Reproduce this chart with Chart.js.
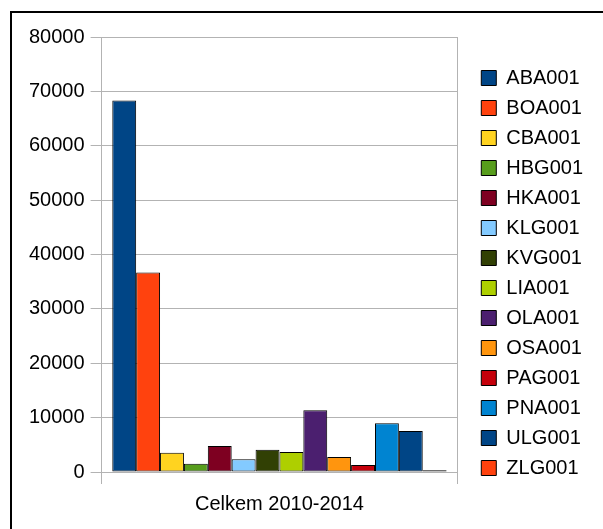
<!DOCTYPE html>
<html>
<head>
<meta charset="utf-8">
<script src="https://cdn.jsdelivr.net/npm/chart.js@4/dist/chart.umd.min.js"></script>
<style>
  body { margin: 0; background: #fff; overflow: hidden; }
  #ramec { position: absolute; left: 10px; top: 11px; width: 640px; height: 560px; border: 2px solid #000; }
  #obal { position: absolute; left: 12px; top: 0; width: 591px; height: 529px; }
</style>
</head>
<body>
<div id="ramec"></div>
<div id="obal"><canvas id="graf"></canvas></div>
<script>
// kategorie a hodnoty
const kategorie = ['Celkem 2010-2014'];
const pracoviste = ['ABA001', 'BOA001', 'CBA001', 'HBG001', 'HKA001', 'KLG001', 'KVG001',
                    'LIA001', 'OLA001', 'OSA001', 'PAG001', 'PNA001', 'ULG001', 'ZLG001'];
const hodnoty = [68300, 36700, 3550, 1530, 4790, 2340, 4110, 3690, 11370, 2760, 1290, 8970, 7560, 310];
const barvy = ['#004586', '#ff420e', '#ffd320', '#579d1c', '#7e0021', '#83caff', '#314004',
               '#aecf00', '#4b1f6f', '#ff950e', '#c5000b', '#0084d1', '#004586', '#ff420e'];
const osaY = [0, 10000, 20000, 30000, 40000, 50000, 60000, 70000, 80000];

const pismo = { family: '"Liberation Sans", Arial, sans-serif', size: 20 };

const datasets = pracoviste.map((p, i) => ({
  label: p,
  data: [hodnoty[i]],
  backgroundColor: barvy[i],
  borderColor: '#000',
  borderWidth: 1,
  borderSkipped: false
}));

// prazdne osy jen kvuli odsazeni grafu
const mezera = (sirka, vyska) => ({
  display: true,
  grid: { display: false },
  border: { display: false },
  ticks: { display: false },
  afterFit: s => { if (sirka) s.width = sirka; if (vyska) s.height = vyska; }
});

new Chart(document.getElementById('graf'), {
  type: 'bar',
  data: { labels: kategorie, datasets: datasets },
  options: {
    responsive: true,
    maintainAspectRatio: false,
    animation: false,
    categoryPercentage: 0.94,
    barPercentage: 1,
    layout: { padding: { top: 22, right: 10, left: 11, bottom: 5 } },
    plugins: {
      tooltip: { enabled: false },
      legend: {
        position: 'right',
        maxWidth: 200,
        labels: {
          font: pismo,
          color: '#000',
          boxWidth: 15,
          boxHeight: 15,
          padding: 10,
          useBorderRadius: false
        }
      }
    },
    scales: {
      x: {
        offset: true,
        grid: { display: true, offset: true, color: '#b3b3b3', drawOnChartArea: true, tickLength: 12 },
        border: { color: '#b3b3b3' },
        ticks: { font: pismo, color: '#000', padding: 8 }
      },
      y: {
        min: 0,
        max: 80000,
        afterBuildTicks: ax => { ax.ticks = osaY.map(v => ({ value: v })); },
        grid: { color: '#b3b3b3', tickLength: 11 },
        border: { color: '#b3b3b3' },
        ticks: { font: pismo, color: '#000', padding: 6, callback: v => String(v) }
      },
      xHore: Object.assign({ type: 'category', position: 'top' }, mezera(0, 15)),
      yVpravo: Object.assign({ type: 'linear', position: 'right' }, mezera(14, 0))
    }
  }
});
</script>
</body>
</html>
